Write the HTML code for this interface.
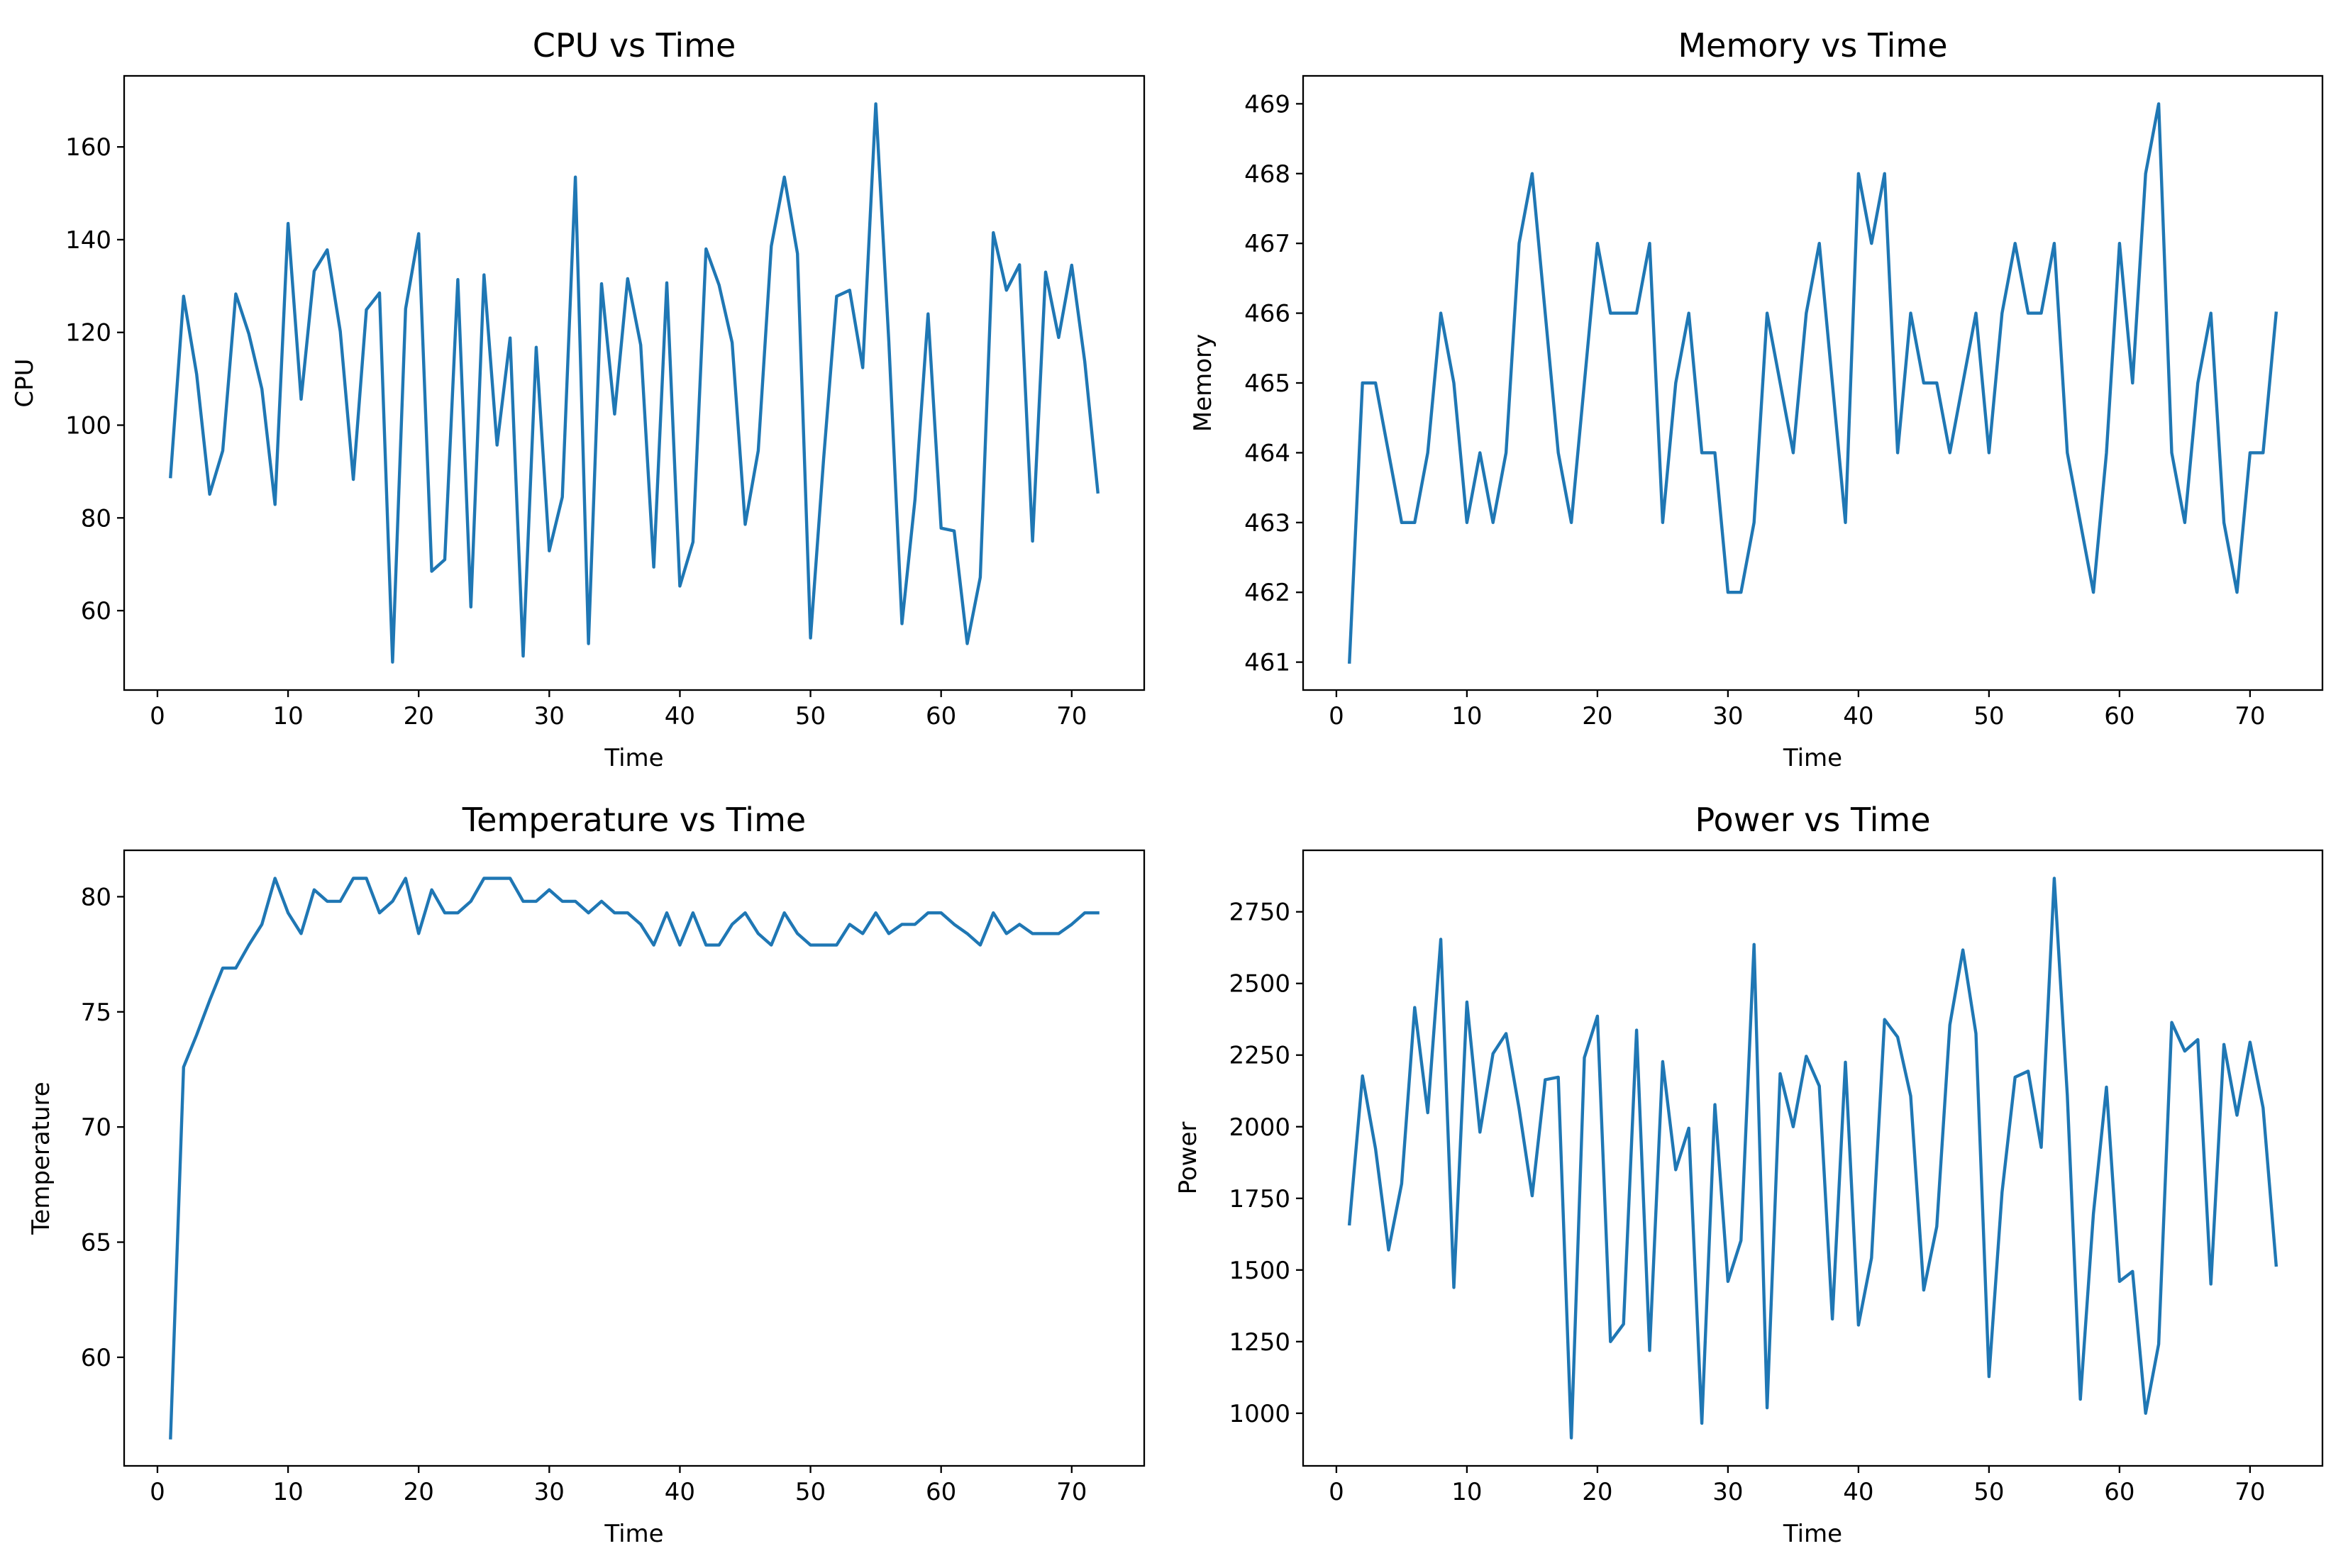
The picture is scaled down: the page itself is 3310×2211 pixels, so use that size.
<!DOCTYPE html>
<html><head><meta charset="utf-8">
<style>
html,body{margin:0;padding:0;background:#fff;}
svg{display:block;}
text{font-family:"DejaVu Sans","Liberation Sans",sans-serif;fill:#000;}
</style></head>
<body>
<svg id="fig" width="3310" height="2211" viewBox="0 0 3310 2211" xmlns="http://www.w3.org/2000/svg"></svg>
<script>
const timeValues = Array.from({length:72},(_, i)=>i+1);
const cpuValues = [88.9,127.8,111,85.1,94.5,128.3,119.7,107.8,82.9,143.5,105.6,133.2,137.8,120.2,88.3,124.9,128.5,48.9,125.1,141.3,68.5,71,131.4,60.8,132.4,95.7,118.8,50.2,116.8,72.9,84.5,153.5,52.9,130.5,102.4,131.6,117.3,69.4,130.7,65.3,74.8,138,130.2,117.8,78.6,94.5,138.6,153.5,137,54.1,92.6,127.8,129.1,112.4,169.3,118,57.2,84,124,77.8,77.2,52.9,67.2,141.5,129.1,134.6,75,133,118.9,134.5,113.7,85.6];
const memoryValues = [461,465,465,464,463,463,464,466,465,463,464,463,464,467,468,466,464,463,465,467,466,466,466,467,463,465,466,464,464,462,462,463,466,465,464,466,467,465,463,468,467,468,464,466,465,465,464,465,466,464,466,467,466,466,467,464,463,462,464,467,465,468,469,464,463,465,466,463,462,464,464,466];
const temperatureValues = [56.5,72.6,74,75.5,76.9,76.9,77.9,78.8,80.8,79.3,78.4,80.3,79.8,79.8,80.8,80.8,79.3,79.8,80.8,78.4,80.3,79.3,79.3,79.8,80.8,80.8,80.8,79.8,79.8,80.3,79.8,79.8,79.3,79.8,79.3,79.3,78.8,77.9,79.3,77.9,79.3,77.9,77.9,78.8,79.3,78.4,77.9,79.3,78.4,77.9,77.9,77.9,78.8,78.4,79.3,78.4,78.8,78.8,79.3,79.3,78.8,78.4,77.9,79.3,78.4,78.8,78.4,78.4,78.4,78.8,79.3,79.3];
const powerValues = [1661,2177,1923,1570,1801,2416,2049,2654,1439,2435,1981,2255,2325,2063,1759,2164,2173,914,2241,2386,1250,1311,2337,1219,2227,1850,1995,965,2077,1460,1603,2636,1019,2185,2000,2246,2142,1329,2225,1308,1542,2374,2313,2107,1430,1652,2355,2617,2325,1128,1771,2173,2194,1928,2867,2110,1049,1696,2138,1460,1495,1000,1241,2364,2264,2304,1451,2287,2040,2295,2066,1517];
const xTicks = [0,10,20,30,40,50,60,70];
const cpuTicks = [60,80,100,120,140,160];
const memoryTicks = [461,462,463,464,465,466,467,468,469];
const temperatureTicks = [60,65,70,75,80];
const powerTicks = [1000,1250,1500,1750,2000,2250,2500,2750];

const NS='http://www.w3.org/2000/svg';
const svg=document.getElementById('fig');
function mk(tag,attrs,parent){const e=document.createElementNS(NS,tag);for(const k in attrs)e.setAttribute(k,attrs[k]);(parent||svg).appendChild(e);return e;}

function panel(key,title,ylabel,ys,yticks,L,T,R,B,ylabX){
  const g=mk('g',{});
  
  
  const xmin=Math.min(...timeValues),xmax=Math.max(...timeValues),xr=xmax-xmin;
  const x0=xmin-0.05*xr,x1=xmax+0.05*xr;
  const ymin=Math.min(...ys),ymax=Math.max(...ys),yr=ymax-ymin;
  const y0=ymin-0.05*yr,y1=ymax+0.05*yr;
  const sx=v=>L+(v-x0)/(x1-x0)*(R-L);
  const sy=v=>B-(v-y0)/(y1-y0)*(B-T);
  const d=timeValues.map((t,i)=>(i?'L':'M')+sx(t).toFixed(1)+' '+sy(ys[i]).toFixed(1)).join(' ');
  const p=mk('path',{d:d,fill:'none',stroke:'#1f77b4','stroke-width':4.4,'stroke-linejoin':'round','stroke-linecap':'square'},g);
  
  
  const f=mk('rect',{x:L,y:T,width:R-L,height:B-T,fill:'none',stroke:'#000','stroke-width':2.3},g);
  
  
  xTicks.forEach(v=>{
    const x=sx(v);
    const tk=mk('line',{x1:x,x2:x,y1:B,y2:B+10,stroke:'#000','stroke-width':2.3},g);
    
    
    const tx=mk('text',{x:x,y:B+48,'font-size':34,'text-anchor':'middle'},g);
    tx.textContent=v;
    
    
  });
  yticks.forEach(v=>{
    const y=sy(v);
    const tk=mk('line',{x1:L-10,x2:L,y1:y,y2:y,stroke:'#000','stroke-width':2.3},g);
    
    
    const tx=mk('text',{x:L-18,y:y+12,'font-size':34,'text-anchor':'end'},g);
    tx.textContent=v;
    
    
  });
  const tt=mk('text',{x:(L+R)/2,y:T-27,'font-size':46,'text-anchor':'middle'},g);
  tt.textContent=title;
  
  
  const xl=mk('text',{x:(L+R)/2,y:B+107,'font-size':34,'text-anchor':'middle'},g);
  xl.textContent='Time';
  
  
  const cy=(T+B)/2;
  const yl=mk('text',{x:ylabX,y:cy,'font-size':34,'text-anchor':'middle',transform:'rotate(-90 '+ylabX+' '+cy+')'},g);
  yl.textContent=ylabel;
  
  
}
panel('cpu','CPU vs Time','CPU',cpuValues,cpuTicks,175,107,1613,973,46);
panel('memory','Memory vs Time','Memory',memoryValues,memoryTicks,1837,107,3274,973,1707);
panel('temperature','Temperature vs Time','Temperature',temperatureValues,temperatureTicks,175,1199,1613,2067,69);
panel('power','Power vs Time','Power',powerValues,powerTicks,1837,1199,3274,2067,1686);
</script>
</body></html>
